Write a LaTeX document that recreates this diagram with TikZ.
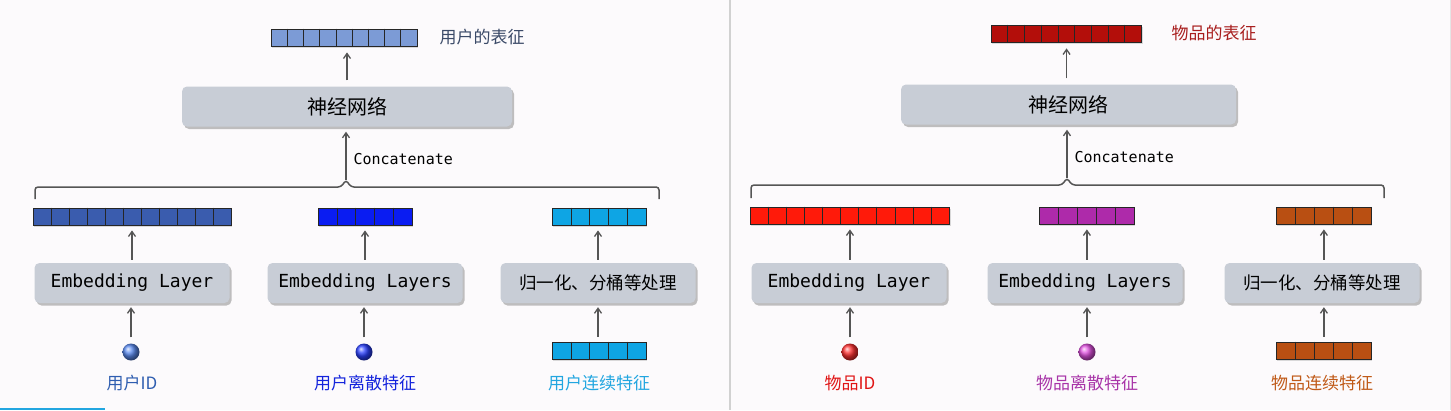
\documentclass[tikz,border=0pt]{standalone}
\usepackage{fontspec}
\setmonofont{DejaVu Sans Mono}
\newfontfamily\cjk{Noto Sans CJK SC}
\usetikzlibrary{calc,shadows,arrows.meta}
\definecolor{bgcol}{HTML}{FCFAFC}
\definecolor{boxgray}{HTML}{C8CDD6}
\definecolor{arrgray}{HTML}{555555}
\definecolor{topL}{HTML}{7C9BD6}
\definecolor{topLlab}{HTML}{3B4A68}
\definecolor{vL1}{HTML}{3A5CAE}
\definecolor{vL2}{HTML}{0A1CF2}
\definecolor{vL3}{HTML}{0EA5E4}
\definecolor{lL1}{HTML}{2E5DB0}
\definecolor{lL2}{HTML}{1424DC}
\definecolor{lL3}{HTML}{22A6E0}
\definecolor{topR}{HTML}{B30E0A}
\definecolor{topRlab}{HTML}{A81E1E}
\definecolor{vR1}{HTML}{FF1A0A}
\definecolor{vR2}{HTML}{AE2AAA}
\definecolor{vR3}{HTML}{B94F12}
\definecolor{lR1}{HTML}{E01414}
\definecolor{lR2}{HTML}{A834A8}
\definecolor{lR3}{HTML}{C05A18}
\definecolor{bL1}{HTML}{5A8AF0}
\definecolor{bL2}{HTML}{2A40FF}
\definecolor{bR1}{HTML}{FF3030}
\definecolor{bR2}{HTML}{E050E0}
\tikzset{
  box/.style={rounded corners=5pt, fill=boxgray, inner sep=0pt,
    drop shadow={shadow xshift=2pt,shadow yshift=-2.5pt,fill=black!45,opacity=0.55}},
  embbox/.style={box, minimum width=195pt, minimum height=40pt, font=\ttfamily\fontsize{18}{20}\selectfont},
  nnbox/.style={box, minimum height=40pt, font=\cjk\fontsize{20}{22}\selectfont},
  arr/.style={-{Straight Barb[length=5pt,width=7pt]}, draw=arrgray, line width=1.3pt},
  vbar/.style={draw=black!85, line width=0.8pt, minimum height=17pt, inner sep=0pt, anchor=west,
    drop shadow={shadow xshift=1pt,shadow yshift=-1.5pt,fill=black!40,opacity=0.35}},
  cell/.style={draw=black!85, line width=0.6pt},
  ballst/.style={circle, minimum size=17pt, inner sep=0pt},
  lbl/.style={font=\cjk\fontsize{17}{20}\selectfont},
  toplbl/.style={font=\cjk\fontsize{17}{20}\selectfont, anchor=west},
  concat/.style={anchor=west, font=\ttfamily\fontsize{15}{16}\selectfont},
  brace/.style={draw=arrgray, line width=1.5pt, rounded corners=3pt}
}
\newcommand\vecbar[6]{%
  \node[vbar, fill=#6, minimum width={#4*#5pt}] (#1) at (#2,#3) {};
  \pgfmathtruncatemacro\nmcells{#4-1}%
  \foreach \i in {1,...,\nmcells}
    \draw[cell] ($(#1.north west)+(\i*#5,0)$) -- ($(#1.south west)+(\i*#5,0)$);
}
\begin{document}
\begin{tikzpicture}[x=1pt,y=-1pt]
\useasboundingbox (0,0) rectangle (1451,410);
\fill[bgcol] (0,0) rectangle (1451,410);
\draw[black!18, line width=2pt] (730,0) -- (730,410);
\draw[black!10, line width=1pt] (1450,0) -- (1450,410);
\draw[lL3, line width=2pt] (0,409) -- (105,409);

% ---------------- left panel ----------------
\vecbar{utop}{271}{37.5}{9}{16.2}{topL}
\node[toplbl, text=topLlab] (utoplab) at (436,37) {用户的表征};
\node[nnbox, minimum width=330pt] (unn) at (347,106.5) {神经网络};
\draw[arr, shorten <=6pt, shorten >=6pt] (unn.north) -- (unn.north |- utop.south);

\coordinate (ubt) at (346,180);
\draw[brace] (35,199) -- (35,187) -- (341,187) -- (ubt) -- (351,187) -- (659,187) -- (659,199);
\draw[arr, shorten >=5pt] (ubt) -- (ubt |- unn.south);
\node[concat] (uconcat) at (350,159) {Concatenate};

\vecbar{uv1}{33}{216.5}{11}{18}{vL1}
\vecbar{uv2}{318}{216.5}{5}{18.8}{vL2}
\vecbar{uv3}{552}{216.5}{5}{18.8}{vL3}

\node[embbox] (ub1) at (132,283) {Embedding Layer};
\node[embbox] (ub2) at (365,283) {Embedding Layers};
\node[embbox, font=\cjk\fontsize{17.5}{20}\selectfont] (ub3) at (598,283) {归一化、分桶等处理};

\draw[arr, shorten <=3pt, shorten >=5pt] (ub1.north) -- (ub1.north |- uv1.south);
\draw[arr, shorten <=3pt, shorten >=5pt] (ub2.north) -- (ub2.north |- uv2.south);
\draw[arr, shorten <=3pt, shorten >=5pt] (ub3.north) -- (ub3.north |- uv3.south);

\node[ballst, ball color=bL1] (uin1) at (131,352) {};
\node[ballst, ball color=bL2] (uin2) at (364,352) {};
\vecbar{uin3}{552}{350.5}{5}{18.8}{vL3}

\draw[arr, shorten <=6pt, shorten >=4pt] (uin1.north) -- (uin1.north |- ub1.south);
\draw[arr, shorten <=6pt, shorten >=4pt] (uin2.north) -- (uin2.north |- ub2.south);
\draw[arr, shorten <=5pt, shorten >=4pt] (uin3.north -| ub3.south) -- (ub3.south);

\node[lbl, text=lL1] (ul1) at (132,383) {用户ID};
\node[lbl, text=lL2] (ul2) at (365,383) {用户离散特征};
\node[lbl, text=lL3] (ul3) at (599,383) {用户连续特征};

% ---------------- right panel ----------------
\vecbar{itop}{991}{33.5}{9}{16.7}{topR}
\node[toplbl, text=topRlab] (itoplab) at (1168,33) {物品的表征};
\node[nnbox, minimum width=335pt] (inn) at (1068.5,104.5) {神经网络};
\draw[arr, shorten <=6pt, shorten >=6pt] (inn.north -| itop.south) -- (itop.south);

\coordinate (ibt) at (1067,178);
\draw[brace] (751,198) -- (751,185) -- (1062,185) -- (ibt) -- (1072,185) -- (1384,185) -- (1384,198);
\draw[arr, shorten >=5pt] (ibt) -- (ibt |- inn.south);
\node[concat] (iconcat) at (1071,157) {Concatenate};

\vecbar{iv1}{750}{215.5}{11}{18.1}{vR1}
\vecbar{iv2}{1039}{215.5}{5}{19}{vR2}
\vecbar{iv3}{1276}{215.5}{5}{19}{vR3}

\node[embbox] (ib1) at (849,283) {Embedding Layer};
\node[embbox] (ib2) at (1085,283) {Embedding Layers};
\node[embbox, font=\cjk\fontsize{17.5}{20}\selectfont] (ib3) at (1322,283) {归一化、分桶等处理};

\draw[arr, shorten <=3pt, shorten >=5pt] (ib1.north -| iv1.south) -- (iv1.south);
\draw[arr, shorten <=3pt, shorten >=5pt] (ib2.north -| iv2.south) -- (iv2.south);
\draw[arr, shorten <=3pt, shorten >=5pt] (ib3.north -| iv3.south) -- (iv3.south);

\node[ballst, ball color=bR1] (iin1) at (850,352) {};
\node[ballst, ball color=bR2] (iin2) at (1087,352) {};
\vecbar{iin3}{1276}{350.5}{5}{19}{vR3}

\draw[arr, shorten <=6pt, shorten >=4pt] (iin1.north) -- (iin1.north |- ib1.south);
\draw[arr, shorten <=6pt, shorten >=4pt] (iin2.north) -- (iin2.north |- ib2.south);
\draw[arr, shorten <=5pt, shorten >=4pt] (iin3.north) -- (iin3.north |- ib3.south);

\node[lbl, text=lR1] (il1) at (850,383) {物品ID};
\node[lbl, text=lR2] (il2) at (1087,383) {物品离散特征};
\node[lbl, text=lR3] (il3) at (1322,383) {物品连续特征};
\end{tikzpicture}
\end{document}
